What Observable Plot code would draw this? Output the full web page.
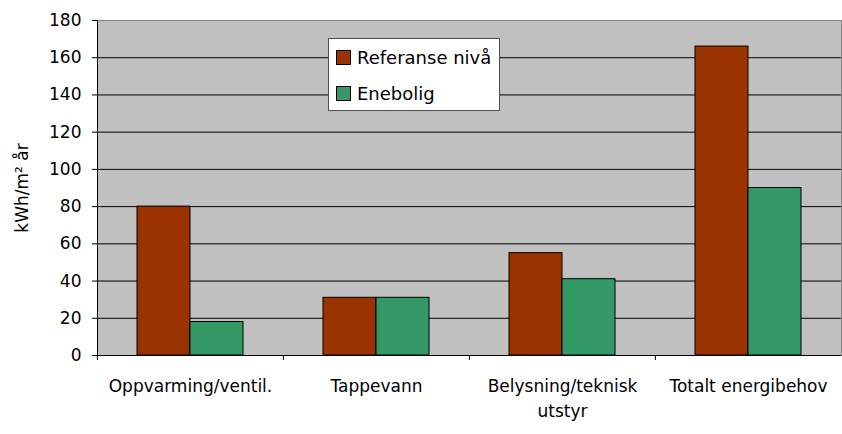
<!DOCTYPE html>
<html>
<head>
<meta charset="utf-8">
<script src="https://cdn.jsdelivr.net/npm/d3@7"></script>
<script src="https://cdn.jsdelivr.net/npm/@observablehq/plot@0.6"></script>
<style>
  body { margin: 0; background: #fff; }
  #wrap { position: relative; width: 842px; height: 434px; font-family: "Comic Sans MS", "DejaVu Sans", sans-serif; }
  #legend { position: absolute; left: 328px; top: 38px; width: 170px; height: 71px; background: #fff; border: 1px solid #505050; }
  .item { position: absolute; left: 7px; display: flex; align-items: center; font-size: 18px; color: #000; }
  .sw { width: 13px; height: 13px; border: 1px solid #000; margin-right: 6px; }
</style>
</head>
<body>
<div id="wrap"></div>
<script>
const categories = ["Oppvarming/ventil.", "Tappevann", "Belysning/teknisk\nutstyr", "Totalt energibehov"];
const seriesNames = ["Referanse nivå", "Enebolig"];
const referanseValues = [80, 31, 55, 166];
const eneboligValues = [18, 31, 41, 90];
const seriesColors = ["#993300", "#339966"];
const yTicks = [0, 20, 40, 60, 80, 100, 120, 140, 160, 180];
const yLabel = "kWh/m² år";

const data = [];
categories.forEach((c, i) => {
  data.push({cat: c, series: seriesNames[0], value: referanseValues[i]});
  data.push({cat: c, series: seriesNames[1], value: eneboligValues[i]});
});

const W = 842, H = 434, mL = 96, mR = 1;
const step = (W - mL - mR) / categories.length;

const chart = Plot.plot({
  width: W,
  height: H,
  marginLeft: mL,
  marginRight: mR,
  marginTop: 20,
  marginBottom: 79,
  style: {fontFamily: '"Comic Sans MS", "DejaVu Sans", sans-serif', fontSize: "17px", color: "#000", background: "#fff"},
  fx: {domain: categories, padding: 0, label: null},
  x: {domain: seriesNames, paddingInner: 0, paddingOuter: 0.74, axis: null},
  y: {domain: [0, 180], label: null},
  color: {domain: seriesNames, range: seriesColors},
  marks: [
    Plot.frame({fill: "#c0c0c0", stroke: "#808080", facet: "super"}),
    Plot.gridY(yTicks.filter(t => t > 0 && t < 180), {stroke: "#000", strokeOpacity: 1}),
    Plot.barY(data, {fx: "cat", x: "series", y: "value", fill: "series", stroke: "#000", strokeWidth: 1}),
    Plot.ruleY([0], {stroke: "#000"}),
    Plot.frame({anchor: "left", stroke: "#000", facet: "super"}),
    Plot.axisY({ticks: yTicks, tickSize: 5, tickPadding: 11, fontSize: 17, label: yLabel, labelArrow: "none", labelAnchor: "center", labelOffset: 82}),
    Plot.axisFx({anchor: "bottom", tickSize: 0, tickPadding: 19, fontSize: 17, lineHeight: 1.45, label: null}),
    Plot.axisFx({anchor: "bottom", tickSize: 5, tickFormat: () => "", dx: -step / 2, label: null})
  ]
});

const wrap = document.getElementById("wrap");
wrap.appendChild(chart);

const legend = document.createElement("div");
legend.id = "legend";
seriesNames.forEach((name, i) => {
  const item = document.createElement("div");
  item.className = "item";
  item.style.top = (i === 0 ? 8 : 44) + "px";
  const sw = document.createElement("div");
  sw.className = "sw";
  sw.style.background = seriesColors[i];
  const t = document.createElement("span");
  t.textContent = name;
  item.appendChild(sw);
  item.appendChild(t);
  legend.appendChild(item);
});
wrap.appendChild(legend);
</script>
</body>
</html>
